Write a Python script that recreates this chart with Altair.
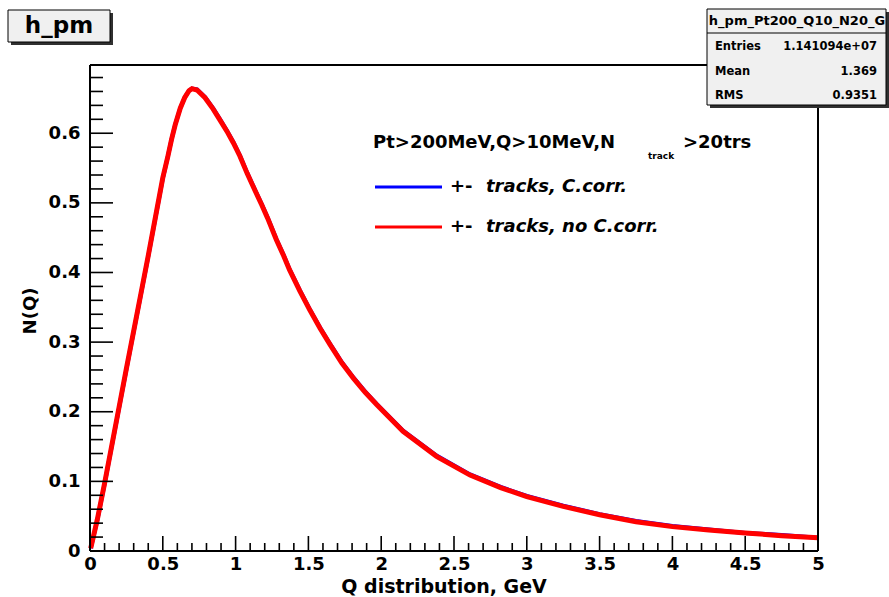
import altair as alt
import pandas as pd

# Q distribution of +- track pairs (GeV) and normalised counts N(Q)
q_gev = [0.005, 0.05, 0.10, 0.15, 0.20, 0.25, 0.30, 0.35, 0.40, 0.45,
         0.50, 0.535, 0.56, 0.585, 0.62, 0.65, 0.68, 0.70, 0.735, 0.79,
         0.845, 0.89, 0.94, 0.985, 1.03, 1.08, 1.135, 1.18, 1.22, 1.28,
         1.33, 1.37, 1.44, 1.51, 1.58, 1.65, 1.73, 1.81, 1.89, 1.97,
         2.15, 2.38, 2.61, 2.82, 3.0, 3.25, 3.5, 3.75, 4.0, 4.25,
         4.5, 4.75, 5.0]
n_no_corr = [0.004, 0.045, 0.097, 0.152, 0.207, 0.262, 0.316, 0.370, 0.424, 0.480,
             0.536, 0.567, 0.591, 0.612, 0.636, 0.651, 0.661, 0.664, 0.662, 0.651,
             0.635, 0.620, 0.603, 0.586, 0.567, 0.542, 0.517, 0.497, 0.478, 0.447,
             0.424, 0.404, 0.374, 0.346, 0.320, 0.296, 0.270, 0.248, 0.228, 0.210,
             0.172, 0.136, 0.109, 0.091, 0.078, 0.064, 0.052, 0.042, 0.035, 0.030,
             0.026, 0.022, 0.019]
n_c_corr = [0.004, 0.044, 0.096, 0.151, 0.206, 0.261, 0.315, 0.369, 0.423, 0.479,
            0.535, 0.567, 0.591, 0.612, 0.636, 0.651, 0.661, 0.664, 0.663, 0.652,
            0.636, 0.621, 0.604, 0.587, 0.568, 0.543, 0.518, 0.498, 0.479, 0.448,
            0.425, 0.405, 0.375, 0.347, 0.321, 0.297, 0.271, 0.249, 0.229, 0.211,
            0.173, 0.137, 0.110, 0.092, 0.079, 0.065, 0.053, 0.043, 0.036, 0.031,
            0.026, 0.023, 0.019]

x_major = [0, 0.5, 1, 1.5, 2, 2.5, 3, 3.5, 4, 4.5, 5]
x_minor = [round(i * 0.1, 1) for i in range(51) if i % 5]
y_major = [0, 0.1, 0.2, 0.3, 0.4, 0.5, 0.6]
y_minor = [round(i * 0.02, 2) for i in range(35) if i % 5]

stats_rows = ["Entries", "Mean", "RMS"]
stats_vals = ["1.141094e+07", "1.369", "0.9351"]

W, H = 728, 486
FONT = "DejaVu Sans"

xs = alt.Scale(domain=[0, 5], nice=False, zero=False)
ys = alt.Scale(domain=[0, 0.698], nice=False, zero=False)

x_axis = alt.Axis(values=x_major, format="~g", title=None, grid=False, ticks=False,
                  tickSize=0, domain=False, labelFont=FONT, labelFontWeight="bold",
                  labelFontSize=18, labelColor="black", labelPadding=4,
                  labelFlush=False, labelOverlap=False, labelBound=False)
y_axis = alt.Axis(values=y_major, format="~g", title=None, grid=False, ticks=False,
                  tickSize=0, domain=False, labelFont=FONT, labelFontWeight="bold",
                  labelFontSize=18, labelColor="black", labelPadding=10,
                  labelOverlap=False, labelBound=False)

one = pd.DataFrame({"k": [0]})


def text(t, x, y, size=18, align="left", italic=False, angle=0, weight="bold"):
    kw = dict(font=FONT, fontSize=size, fontWeight=weight, align=align,
              baseline="middle", color="black")
    if italic:
        kw["fontStyle"] = "italic"
    if angle:
        kw["angle"] = angle
    return alt.Chart(pd.DataFrame({"t": [t]})).mark_text(**kw).encode(
        x=alt.value(x), y=alt.value(y), text="t:N")


def rect(x, x2, y, y2, fill, stroke=None, sw=1):
    kw = dict(fill=fill)
    if stroke:
        kw.update(stroke=stroke, strokeWidth=sw)
    return alt.Chart(one).mark_rect(**kw).encode(
        x=alt.value(x), x2=alt.value(x2), y=alt.value(y), y2=alt.value(y2))


def hline(x, x2, y, color="black", sw=2):
    return alt.Chart(one).mark_rule(color=color, strokeWidth=sw).encode(
        x=alt.value(x), x2=alt.value(x2), y=alt.value(y))


def vline(x, y, y2, color="black", sw=2):
    return alt.Chart(one).mark_rule(color=color, strokeWidth=sw).encode(
        x=alt.value(x), y=alt.value(y), y2=alt.value(y2))


blue = alt.Chart(pd.DataFrame({"Q": q_gev, "N": n_c_corr})).mark_line(
    color="#0000ff", strokeWidth=4).encode(
    x=alt.X("Q:Q", scale=xs, axis=x_axis), y=alt.Y("N:Q", scale=ys, axis=y_axis))
red = alt.Chart(pd.DataFrame({"Q": q_gev, "N": n_no_corr})).mark_line(
    color="#ff0000", strokeWidth=5).encode(
    x=alt.X("Q:Q", scale=xs, axis=x_axis), y=alt.Y("N:Q", scale=ys, axis=y_axis))


def xticks(vals, length):
    return alt.Chart(pd.DataFrame({"Q": vals})).mark_rule(color="black", strokeWidth=1.6).encode(
        x=alt.X("Q:Q", scale=xs, axis=x_axis), y=alt.value(H), y2=alt.value(H - length))


def yticks(vals, length):
    return alt.Chart(pd.DataFrame({"N": vals})).mark_rule(color="black", strokeWidth=1.6).encode(
        y=alt.Y("N:Q", scale=ys, axis=y_axis), x=alt.value(0), x2=alt.value(length))


frame = [hline(0, W, 0), hline(0, W, H), vline(0, 0, H), vline(W, 0, H)]

# histogram title box
title_box = [rect(-79, 23, -52, -20, "#303030"),
             rect(-82, 20, -55, -23, "#f0f0f0", "black", 1),
             text("h_pm", -31, -39, size=23, align="center")]

# statistics box
stats_box = [rect(620, 799, -53, 43, "#303030"),
             rect(617, 796, -56, 40, "#f0f0f0", "black", 1),
             hline(617, 796, -32, sw=1),
             text("h_pm_Pt200_Q10_N20_G", 707, -44, size=13, align="center")]
for i, (lab, val) in enumerate(zip(stats_rows, stats_vals)):
    yy = -18 + i * 24.5
    stats_box.append(text(lab, 625, yy, size=11.5))
    stats_box.append(text(val, 787, yy, size=11.5, align="right"))

legend = [text("Pt>200MeV,Q>10MeV,N", 283, 78),
          text("track", 558, 91, size=9),
          text(">20trs", 593, 78),
          hline(285, 352, 122, color="#0000ff", sw=3),
          hline(285, 352, 162, color="#ff0000", sw=3),
          text("+-", 360, 122), text("tracks, C.corr.", 396, 122, italic=True),
          text("+-", 360, 162), text("tracks, no C.corr.", 396, 162, italic=True)]

titles = [text("Q distribution, GeV", 354, 522, size=19, align="center"),
          text("N(Q)", -59, 246, size=18, align="center", angle=270)]

chart = alt.layer(
    blue, red,
    xticks(x_major, 15), xticks(x_minor, 8),
    yticks(y_major, 23), yticks(y_minor, 13),
    *frame, *legend, *titles, *title_box, *stats_box,
).properties(
    width=W, height=H,
    autosize=alt.AutoSizeParams(type="none"),
    padding={"left": 90, "top": 65, "right": 71, "bottom": 46},
    background="white",
).configure_view(stroke=None)

chart.save("out.html", embed_options={"renderer": "svg", "actions": False})
